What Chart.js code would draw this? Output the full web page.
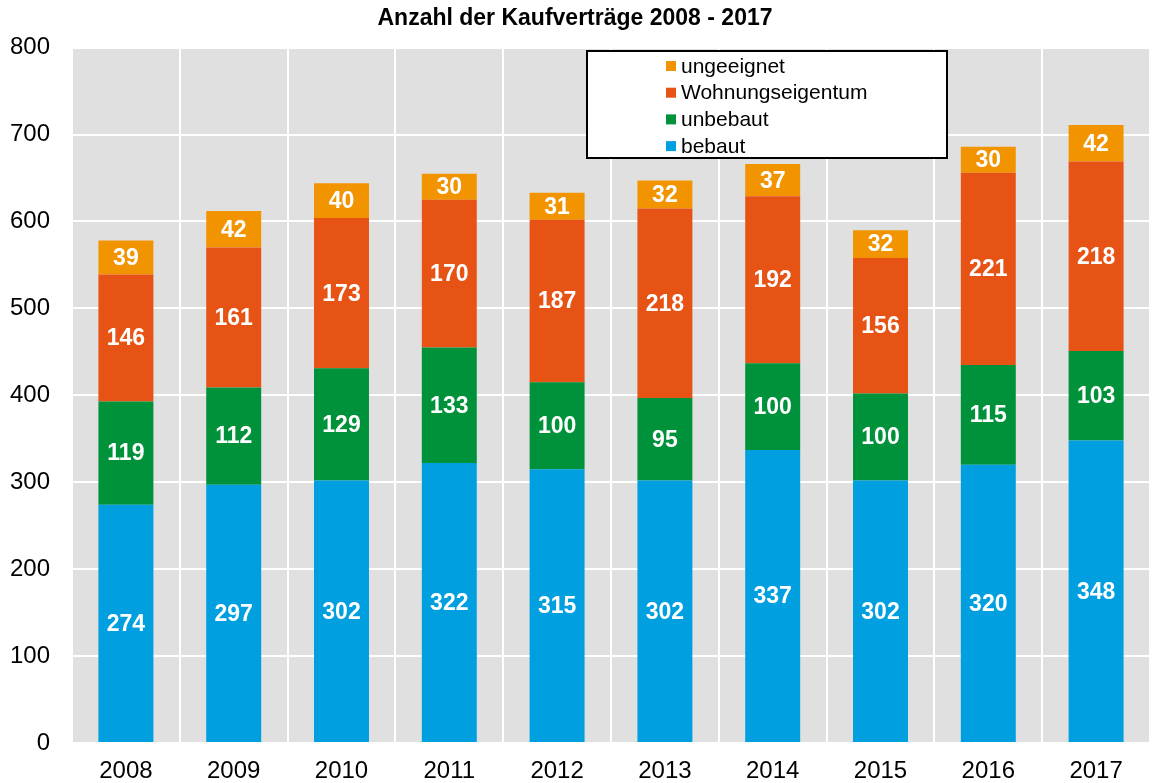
<!DOCTYPE html>
<html>
<head>
<meta charset="utf-8">
<script src="https://cdn.jsdelivr.net/npm/chart.js@4/dist/chart.umd.min.js"></script>
<style>
  html, body { margin: 0; padding: 0; background: #fff; }
  #wrap { width: 1154px; height: 783px; }
</style>
</head>
<body>
<div id="wrap"><canvas id="myChart"></canvas></div>
<script>
const years = ['2008', '2009', '2010', '2011', '2012', '2013', '2014', '2015', '2016', '2017'];
const bebaut = [274, 297, 302, 322, 315, 302, 337, 302, 320, 348];
const unbebaut = [119, 112, 129, 133, 100, 95, 100, 100, 115, 103];
const wohnungseigentum = [146, 161, 173, 170, 187, 218, 192, 156, 221, 218];
const ungeeignet = [39, 42, 40, 30, 31, 32, 37, 32, 30, 42];
const yTicks = [0, 100, 200, 300, 400, 500, 600, 700, 800];

const FONT = '"Liberation Sans", Arial, sans-serif';

// grey plot background
const plotBg = {
    id: 'plotBg',
    beforeDraw(chart) {
        const { ctx, chartArea: a } = chart;
        ctx.save();
        ctx.fillStyle = '#e0e0e0';
        ctx.fillRect(a.left, a.top, a.right - a.left, a.bottom - a.top);
        ctx.restore();
    }
};

// white value labels in the middle of each segment
const valueLabels = {
    id: 'valueLabels',
    afterDatasetsDraw(chart) {
        const ctx = chart.ctx;
        ctx.save();
        ctx.font = 'bold 23px ' + FONT;
        ctx.fillStyle = '#ffffff';
        ctx.textAlign = 'center';
        ctx.textBaseline = 'middle';
        chart.data.datasets.forEach((ds, i) => {
            chart.getDatasetMeta(i).data.forEach((bar, j) => {
                const mid = (bar.y + bar.base) / 2;
                ctx.fillText(String(ds.data[j]), bar.x, mid + 1);
            });
        });
        ctx.restore();
    }
};

// legend box inside the plot, top series first
const boxLegend = {
    id: 'boxLegend',
    afterDraw(chart) {
        const ctx = chart.ctx;
        const x = 587, y = 51, w = 360, h = 107;
        ctx.save();
        ctx.fillStyle = '#ffffff';
        ctx.fillRect(x, y, w, h);
        ctx.strokeStyle = '#000000';
        ctx.lineWidth = 2;
        ctx.strokeRect(x, y, w, h);
        ctx.font = '21px ' + FONT;
        ctx.textBaseline = 'middle';
        ctx.textAlign = 'left';
        const items = chart.data.datasets.slice().reverse();
        items.forEach((ds, k) => {
            const cy = y + 15 + k * 26.7;
            ctx.fillStyle = ds.backgroundColor;
            ctx.fillRect(666, cy - 5, 10, 10);
            ctx.fillStyle = '#000000';
            ctx.fillText(ds.label, 681, cy + 1);
        });
        ctx.restore();
    }
};

const ctx = document.getElementById('myChart').getContext('2d');
const chart = new Chart(ctx, {
    type: 'bar',
    data: {
        labels: years,
        datasets: [
            { label: 'bebaut', data: bebaut, backgroundColor: '#009fe0' },
            { label: 'unbebaut', data: unbebaut, backgroundColor: '#00923a' },
            { label: 'Wohnungseigentum', data: wohnungseigentum, backgroundColor: '#e75314' },
            { label: 'ungeeignet', data: ungeeignet, backgroundColor: '#f29400' }
        ]
    },
    options: {
        responsive: true,
        maintainAspectRatio: false,
        animation: false,
        datasets: {
            bar: { categoryPercentage: 1, barPercentage: 0.51, borderWidth: 0 }
        },
        layout: { padding: { left: 0, right: 4, top: 0, bottom: 0 } },
        plugins: {
            legend: { display: false },
            tooltip: { enabled: false },
            title: {
                display: true,
                text: 'Anzahl der Kaufverträge 2008 - 2017',
                color: '#000',
                font: { family: FONT, size: 23, weight: 'bold' },
                padding: { top: 5, bottom: 15 }
            }
        },
        scales: {
            x: {
                stacked: true,
                grid: { color: '#ffffff', lineWidth: 2, drawTicks: false, offset: true },
                border: { display: false },
                ticks: { color: '#000', font: { family: FONT, size: 24 }, padding: 14 },
                afterFit(s) { s.height = 40; }
            },
            y: {
                stacked: true,
                min: 0,
                max: 800,
                afterBuildTicks(s) { s.ticks = yTicks.map(v => ({ value: v })); },
                grid: { color: '#ffffff', lineWidth: 2, drawTicks: false },
                border: { display: false },
                ticks: { color: '#000', font: { family: FONT, size: 24 }, padding: 22 },
                afterFit(s) { s.width = 72; }
            }
        }
    },
    plugins: [plotBg, valueLabels, boxLegend]
});
</script>
</body>
</html>
